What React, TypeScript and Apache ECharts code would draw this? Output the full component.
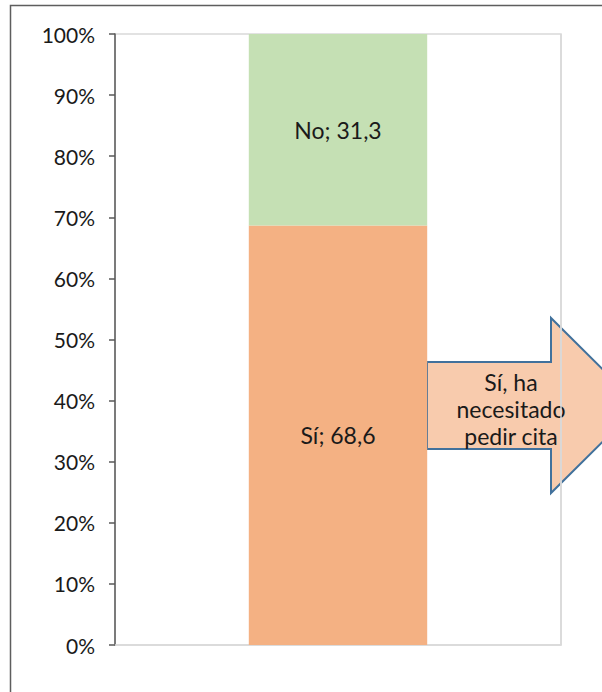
import React, { useEffect, useRef } from "react";
import * as echarts from "echarts";

const categories = [""];
const seriesNames = ["Sí", "No"];
const siValues = [68.6];
const noValues = [31.3];
const yTicks = [0, 10, 20, 30, 40, 50, 60, 70, 80, 90, 100];
const arrowLines = ["Sí, ha", "necesitado", "pedir cita"];

const FONT = "Lato, 'Open Sans', sans-serif";

export default function App() {
  const ref = useRef<HTMLDivElement>(null);
  useEffect(() => {
    if (!ref.current) return;
    const chart = echarts.init(ref.current, undefined, { renderer: "svg" });
    const totals = categories.map((_, i) => siValues[i] + noValues[i]);
    const norm = (arr: number[]) => arr.map((v, i) => (v / totals[i]) * 100);
    const raw: Record<string, number[]> = { "Sí": siValues, No: noValues };
    const fmt = (p: any) =>
      `${p.seriesName}; ${raw[p.seriesName][p.dataIndex].toFixed(1).replace(".", ",")}`;

    chart.setOption({
      animation: false,
      backgroundColor: "#ffffff",
      grid: {
        left: 115,
        right: 41,
        top: 34,
        bottom: 47,
        show: true,
        borderColor: "#d9d9d9",
        borderWidth: 1.5,
      },
      xAxis: {
        type: "category",
        data: categories,
        axisLine: { show: true, lineStyle: { color: "#d9d9d9", width: 1.5 } },
        axisTick: { show: false },
        axisLabel: { show: false },
      },
      yAxis: {
        type: "value",
        min: yTicks[0],
        max: yTicks[yTicks.length - 1],
        interval: 10,
        splitLine: { show: false },
        axisLine: { show: true, lineStyle: { color: "#595959", width: 1.5 } },
        axisTick: { show: true, length: 6, lineStyle: { color: "#595959", width: 1.5 } },
        axisLabel: {
          formatter: "{value}%",
          fontFamily: FONT,
          fontSize: 21,
          color: "#1a1a1a",
          margin: 20,
        },
      },
      series: [
        {
          name: seriesNames[0],
          type: "bar",
          stack: "total",
          barWidth: "40%",
          data: norm(siValues),
          itemStyle: { color: "#f4b183" },
          label: {
            show: true,
            position: "inside",
            formatter: fmt,
            fontFamily: FONT,
            fontSize: 23,
            color: "#1a1a1a",
          },
        },
        {
          name: seriesNames[1],
          type: "bar",
          stack: "total",
          barWidth: "40%",
          data: norm(noValues),
          itemStyle: { color: "#c5e0b4" },
          label: {
            show: true,
            position: "inside",
            formatter: fmt,
            fontFamily: FONT,
            fontSize: 23,
            color: "#1a1a1a",
          },
        },
      ],
      graphic: [
        {
          type: "polygon",
          z: -1,
          shape: {
            points: [
              [427, 362],
              [551, 362],
              [551, 318],
              [639, 405.5],
              [551, 493],
              [551, 449],
              [427, 449],
            ],
          },
          style: { fill: "#f8cbad", stroke: "#41719c", lineWidth: 2 },
        },
        {
          type: "text",
          z: 100,
          x: 511,
          y: 409,
          style: {
            text: arrowLines.join("\n"),
            fontFamily: FONT,
            fontSize: 23,
            lineHeight: 27,
            fill: "#1a1a1a",
            align: "center",
            verticalAlign: "middle",
          },
        },
        {
          type: "line",
          z: 101,
          shape: { x1: 561, y1: 34, x2: 561, y2: 645 },
          style: { stroke: "#d9d9d9", lineWidth: 1.5 },
        },
        {
          type: "polyline",
          z: 101,
          shape: { points: [[10.5, 700], [10.5, 5.5], [700, 5.5]] },
          style: { stroke: "#5e5e5e", lineWidth: 1.5, fill: "none" },
        },
      ],
    });
    return () => chart.dispose();
  }, []);
  return (
    <div
      ref={ref}
      style={{ position: "fixed", left: 0, top: 0, width: 602, height: 692 }}
    />
  );
}
